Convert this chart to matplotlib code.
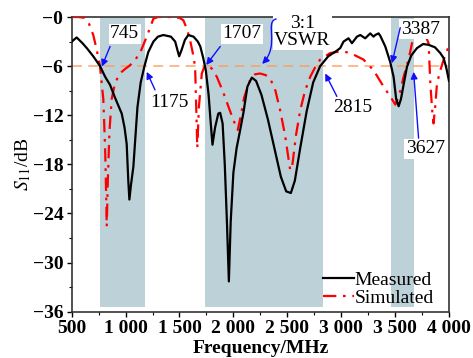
import matplotlib
matplotlib.use("Agg")
import matplotlib.pyplot as plt
from matplotlib.path import Path
from matplotlib.patches import FancyArrowPatch

# ---------------- data ----------------
meas_f = [500, 546, 600, 640, 700, 763, 810, 856, 900, 964, 990, 1010, 1025, 1035,
          1050, 1072, 1110, 1140, 1175, 1210, 1258, 1300, 1350, 1420, 1460, 1480,
          1497, 1520, 1550, 1582, 1630, 1670, 1693, 1720, 1744, 1770, 1790, 1806,
          1830, 1860, 1877, 1900, 1920, 1940, 1958, 1975, 2000, 2030, 2060, 2093,
          2130, 2171, 2210, 2260, 2320, 2380, 2440, 2490, 2533, 2570, 2620, 2680,
          2740, 2805, 2880, 2950, 2991, 3022, 3068, 3100, 3146, 3177, 3223, 3270,
          3300, 3316, 3347, 3363, 3409, 3455, 3486, 3510, 3533, 3555, 3580, 3610,
          3650, 3703, 3760, 3811, 3870, 3919, 3950, 3975, 4000]
meas_db = [-3.0, -2.5, -3.2, -3.8, -4.8, -6.0, -7.3, -8.3, -9.8, -11.8, -13.5, -15.5,
           -20.0, -22.3, -20.5, -18.3, -11.0, -8.0, -6.0, -4.3, -3.0, -2.4, -2.2,
           -2.4, -3.0, -4.0, -4.8, -4.0, -2.8, -2.2, -2.4, -3.0, -3.6, -5.0, -6.5,
           -9.5, -13.0, -15.6, -13.5, -11.8, -11.7, -13.0, -18.0, -25.0, -32.3,
           -25.0, -19.0, -16.0, -14.0, -11.7, -8.5, -7.4, -7.8, -9.5, -12.5, -16.0,
           -19.5, -21.3, -21.5, -20.0, -16.0, -11.5, -8.0, -6.0, -4.8, -4.2, -3.8,
           -3.0, -2.6, -3.2, -2.4, -2.2, -2.6, -2.0, -2.4, -2.2, -2.0, -2.3, -3.6,
           -5.5, -7.3, -10.0, -10.9, -10.0, -8.2, -6.1, -4.7, -3.8, -3.3, -3.4,
           -3.7, -4.4, -5.0, -6.2, -7.8]

sim_f = [500, 560, 620, 654, 700, 732, 763, 793, 810, 820, 825, 835, 850, 871, 900,
         930, 964, 1000, 1041, 1090, 1134, 1165, 1196, 1230, 1258, 1300, 1400, 1500,
         1536, 1570, 1598, 1625, 1645, 1655, 1665, 1680, 1707, 1730, 1753, 1800,
         1846, 1900, 1950, 2000, 2040, 2070, 2100, 2155, 2200, 2248, 2300, 2341,
         2390, 2434, 2480, 2527, 2545, 2580, 2620, 2665, 2713, 2760, 2805, 2898,
         2991, 3050, 3115, 3207, 3300, 3393, 3460, 3502, 3540, 3579, 3625, 3657,
         3700, 3740, 3780, 3811, 3827, 3845, 3857, 3872, 3889, 3920, 3951, 3980, 4000]
sim_db = [0.0, 0.0, -0.1, -0.6, -2.2, -4.0, -6.1, -10.0, -16.0, -22.0, -25.6, -20.0,
          -14.0, -10.0, -8.2, -7.3, -6.7, -6.3, -5.9, -5.2, -4.4, -3.4, -2.4, -1.2,
          -0.2, 0.0, 0.0, -0.1, -0.4, -1.5, -2.8, -4.5, -6.1, -11.0, -16.0, -11.0,
          -6.9, -6.1, -5.9, -6.3, -7.3, -9.0, -10.8, -12.6, -13.8, -12.0, -9.8,
          -7.7, -7.0, -6.9, -7.1, -7.5, -9.0, -11.4, -14.5, -18.7, -18.3, -14.5,
          -11.4, -9.0, -7.3, -6.1, -5.2, -4.4, -4.2, -4.3, -4.6, -5.2, -6.5, -8.5,
          -9.8, -10.7, -9.5, -7.3, -5.2, -3.2, -2.2, -1.8, -2.2, -3.2, -8.1, -11.5,
          -13.0, -11.0, -8.1, -6.5, -5.2, -4.2, -3.4]

vswr_level = -6
bands_lo = [765, 1738, 3465]
bands_hi = [1180, 2830, 3672]
band_bottom = -35.4

marker_labels = ["745", "1175", "1707", "2815", "3387", "3627"]
label_pos = [(992, -2.07), (1403, -10.5), (2078, -2.07), (3107, -11.0), (3734, -1.47), (3781, -16.1)]
arrow_tail = [(856, -3.6), (1273, -8.9), (1878, -3.6), (2960, -9.7), (3548, -1.3), (3718, -14.8)]
arrow_head = [(779, -6.07), (1196, -6.7), (1748, -5.86), (2852, -6.9), (3471, -5.65), (3672, -6.7)]

xticks = [500, 1000, 1500, 2000, 2500, 3000, 3500, 4000]
xticklabels = ["500", "1 000", "1 500", "2 000", "2 500", "3 000", "3 500", "4 000"]
yticks = [-36, -30, -24, -18, -12, -6, 0]
yticklabels = ["\u221236", "\u221230", "\u221224", "\u221218", "\u221212", "\u22126", "\u22120"]

# ---------------- plot ----------------
plt.rcParams['font.family'] = ['Liberation Serif', 'DejaVu Serif']
plt.rcParams['mathtext.fontset'] = 'stix'

fig = plt.figure(figsize=(4.73, 3.58), dpi=100)
ax = fig.add_axes([0.1516, 0.1293, 0.7976, 0.8232])

shade = '#bdd1d9'
for lo, hi in zip(bands_lo, bands_hi):
    ax.fill_between([lo, hi], band_bottom, 0, color=shade, lw=0, zorder=1)

ax.axhline(vswr_level, color='#ff9a55', lw=1.3, ls=(0, (5.5, 3.5)), alpha=0.75, zorder=2)

ax.plot(meas_f, meas_db, color='black', lw=1.6, zorder=4, label='Measured')
ax.plot(sim_f, sim_db, color='#ff0000', lw=1.6, ls=(0, (6, 3, 1.2, 3)), zorder=3,
        label='Simulated')

tfont = dict(fontsize=14, family='Liberation Serif')
bbox = dict(boxstyle='square,pad=0.08', fc='white', ec='none')
arrowkw = dict(arrowstyle='-|>', color='#1010ff', lw=1.0, mutation_scale=10,
               shrinkA=0, shrinkB=0)
for lab, pos, tail, head in zip(marker_labels, label_pos, arrow_tail, arrow_head):
    ax.text(pos[0], pos[1], lab, ha='center', va='center', bbox=bbox, zorder=6, **tfont)
    ax.annotate('', xy=head, xytext=tail, arrowprops=arrowkw, zorder=7)

ax.text(2640, -1.85, "3:1\nVSWR", ha='center', va='center', linespacing=0.95,
        bbox=bbox, zorder=6, clip_on=False, **tfont)
vpath = Path([(2397, -0.24), (2286, -0.6), (2434, -3.4), (2267, -5.74)],
             [Path.MOVETO, Path.CURVE4, Path.CURVE4, Path.CURVE4])
ax.add_patch(FancyArrowPatch(path=vpath, arrowstyle='-|>', color='#1010ff', lw=1.0,
                             mutation_scale=10, zorder=7))

ax.set_xlim(500, 4000)
ax.set_ylim(-36, 0)
ax.set_xticks(xticks)
ax.set_xticklabels(xticklabels)
ax.set_yticks(yticks)
ax.set_yticklabels(yticklabels)
ax.set_xticks([750, 1250, 1750, 2250, 2750, 3250, 3750], minor=True)
ax.set_yticks([-33, -27, -21, -15, -9, -3], minor=True)
ax.tick_params(which='major', direction='out', length=3.5, width=1.0, pad=2.5)
ax.tick_params(which='minor', direction='out', length=2, width=0.8)
for lab in ax.get_xticklabels() + ax.get_yticklabels():
    lab.set_fontsize(14)
    lab.set_fontweight('bold')
for s in ax.spines.values():
    s.set_linewidth(1.2)
    s.set_color('#333333')

ax.set_xlabel('Frequency/MHz', fontsize=14, fontweight='bold', labelpad=2)
ax.set_ylabel(r'$S_{11}$/dB', fontsize=14, labelpad=0)

leg = ax.legend(loc='lower right', bbox_to_anchor=(0.96, 0.015), frameon=False,
                fontsize=14, handlelength=1.6, handletextpad=0.05, labelspacing=0.05,
                borderpad=0, borderaxespad=0)

fig.savefig('out.png', dpi=100)
